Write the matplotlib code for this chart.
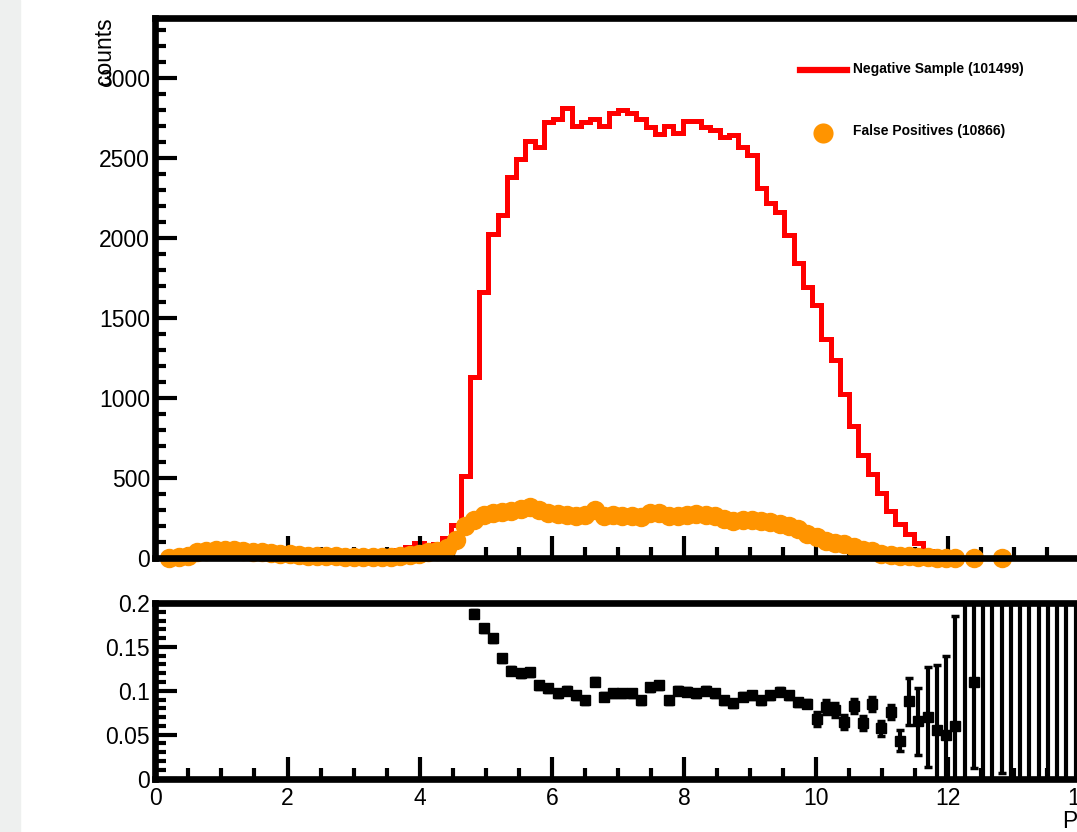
import numpy as np
import matplotlib
matplotlib.use('Agg')
import matplotlib.pyplot as plt
from matplotlib.ticker import MultipleLocator, FuncFormatter
from matplotlib.patches import Rectangle
from matplotlib.lines import Line2D

plt.rcParams['font.family'] = ['Liberation Sans', 'DejaVu Sans']

# 100 bins from 0 to 14
edges = np.round(np.arange(101) * 0.14, 2)
centers = 0.5 * (edges[:-1] + edges[1:])

# negative sample counts per bin
neg_counts = [0, 0, 5, 15, 30, 40, 45, 50, 50, 45,
              45, 42, 40, 35, 32, 30, 28, 25, 22, 20,
              18, 18, 18, 20, 25, 35, 50, 70, 96, 80,
              90, 125, 206, 512, 1131, 1660, 2025, 2144, 2383, 2494,
              2606, 2571, 2721, 2742, 2810, 2700, 2727, 2742, 2700, 2779,
              2800, 2779, 2742, 2692, 2650, 2700, 2658, 2733, 2733, 2692,
              2675, 2629, 2644, 2571, 2519, 2310, 2217, 2160, 2015, 1845,
              1692, 1581, 1367, 1238, 1025, 825, 644, 525, 404, 296,
              214, 150, 92, 45, 22, 10, 5, 2, 1, 1,
              0, 1, 0, 0, 0, 0, 0, 0, 0, 0]

# false positives per bin (nan = empty bin, not drawn)
nan = np.nan
fp_counts = [nan, 2, 5, 15, 35, 45, 50, 52, 48, 42,
             38, 35, 30, 25, 22, 18, 15, 14, 12, 10,
             8, 6, 6, 5, 6, 8, 12, 20, 28, 38,
             45, 60, 110, 200, 240, 268, 280, 285, 292, 305,
             318, 300, 282, 272, 270, 262, 268, 298, 265, 268,
             262, 265, 258, 280, 282, 260, 265, 268, 272, 270,
             262, 245, 232, 240, 238, 230, 222, 212, 200, 180,
             150, 130, 108, 95, 85, 70, 52, 42, 28, 20,
             12, 10, 7, 5, 3, 2, 1, nan, 1, nan,
             nan, 1, nan, nan, nan, nan, nan, nan, nan, nan]

# ratio FP / negative, bins 34..99
ratio_first_bin = 34
ratio = [0.188, 0.171, 0.160, 0.137, 0.123, 0.120, 0.121, 0.106, 0.103, 0.097,
         0.100, 0.095, 0.089, 0.110, 0.093, 0.097, 0.097, 0.097, 0.089, 0.104,
         0.106, 0.089, 0.100, 0.099, 0.097, 0.100, 0.097, 0.089, 0.086, 0.093,
         0.095, 0.089, 0.095, 0.099, 0.095, 0.087, 0.085, 0.068, 0.081, 0.078,
         0.064, 0.083, 0.063, 0.085, 0.057, 0.076, 0.043, 0.088, 0.065, 0.070,
         0.055, 0.050, 0.060, 0.5, 0.110, 1.0, 1.0, 0.5, 1.0, 1.0,
         1.0, 1.0, 1.0, 1.0, 1.0, 1.0]
ratio_err = [0.004] * 37 + [0.008] * 9 + \
            [0.012, 0.027, 0.038, 0.057, 0.074, 0.09, 0.125, 0.5, 0.098, 1.0,
             1.0, 0.494, 1.0, 1.0, 1.0, 1.0, 1.0, 1.0, 1.0, 1.0]

neg_label = 'Negative Sample (101499)'
fp_label = 'False Positives (10866)'

W, H = 1077, 832
fig = plt.figure(figsize=(W / 100, H / 100), dpi=100)
fig.patches.append(Rectangle((0, 0), 20 / W, 1, transform=fig.transFigure,
                             color='#eef0ef', zorder=-1))


def box(x0, y0, x1, y1):
    return [x0 / W, 1 - y1 / H, (x1 - x0) / W, (y1 - y0) / H]


x_left = 155.4
x_right = x_left + 15 * 66.06
ax1 = fig.add_axes(box(x_left, 18.3, x_right, 558))
ax2 = fig.add_axes(box(x_left, 603, x_right, 778.5))

orange = '#ff9400'
ax1.stairs(neg_counts, edges, color='red', lw=3.6, baseline=None, zorder=1.5)
fp = np.array(fp_counts)
ok = ~np.isnan(fp)
ax1.plot(centers[ok], fp[ok], 'o', color=orange, ms=14, mec='none',
         clip_on=False, zorder=2)
ax1.set_xlim(0, 15)
ax1.set_ylim(0, 3372)

ax2.errorbar(centers[ratio_first_bin:], ratio, yerr=ratio_err, fmt='s',
             color='k', ms=7.2, elinewidth=3, capsize=3, capthick=2.5)
ax2.set_xlim(0, 15)
ax2.set_ylim(0, 0.2)

for ax in (ax1, ax2):
    for s in ('top', 'bottom', 'left'):
        ax.spines[s].set_linewidth(4.8)
    ax.spines['right'].set_visible(False)
    ax.xaxis.set_major_locator(MultipleLocator(2))
    ax.xaxis.set_minor_locator(MultipleLocator(0.5))
    ax.tick_params(which='major', direction='in', length=16, width=3,
                   labelsize=16.5, top=False, right=False)
    ax.tick_params(which='minor', direction='in', length=8, width=3,
                   top=False, right=False)
    ax.tick_params(axis='y', pad=4)
    ax.tick_params(axis='x', pad=6)

ax1.yaxis.set_major_locator(MultipleLocator(500))
ax1.yaxis.set_minor_locator(MultipleLocator(100))
ax1.tick_params(axis='x', labelbottom=False)

ax2.yaxis.set_major_locator(MultipleLocator(0.05))
ax2.yaxis.set_minor_locator(MultipleLocator(0.01))
ax2.yaxis.set_major_formatter(FuncFormatter(lambda v, p: f'{v:g}'))

fig.text(105 / W, 1 - 17 / H, 'counts', rotation=90, ha='center', va='top',
         fontsize=16.5)
fig.text(1062 / W, 1 - 821 / H, 'P', ha='left', va='center', fontsize=16.5)

# legend
fig.add_artist(Line2D([800 / W, 847 / W], [1 - 70 / H, 1 - 70 / H],
                      color='red', lw=4.5))
fig.add_artist(Line2D([823 / W], [1 - 132.7 / H], marker='o', color=orange,
                      ms=14.5, mec='none', lw=0))
fig.text(852.7 / W, 1 - 68.5 / H, neg_label, ha='left', va='center',
         fontsize=10, fontweight='bold')
fig.text(852.7 / W, 1 - 131 / H, fp_label, ha='left', va='center',
         fontsize=10, fontweight='bold')

fig.savefig('out.png', dpi=100)
